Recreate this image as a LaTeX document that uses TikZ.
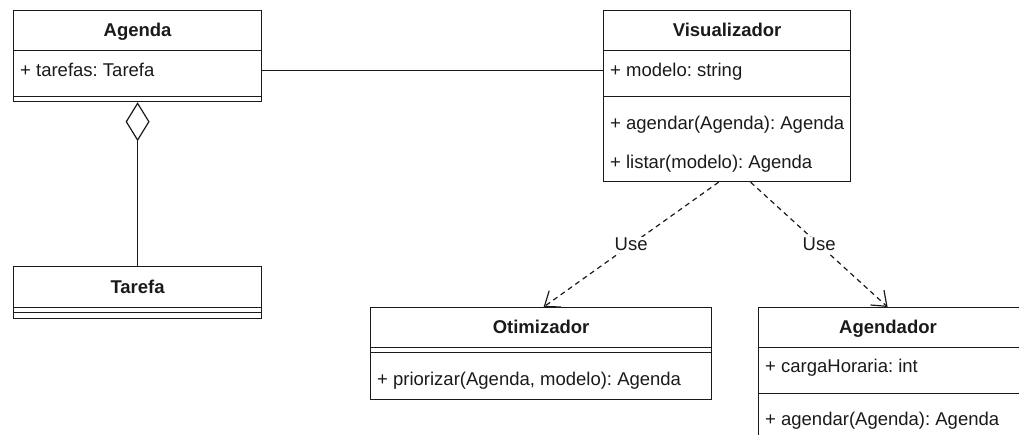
\documentclass[tikz,border=0pt]{standalone}
\usepackage{fontspec}
\setmainfont{Liberation Sans}
\usetikzlibrary{arrows.meta}
\definecolor{ink}{HTML}{1A1A1A}
\frenchspacing
\begin{document}
\begin{tikzpicture}[x=1pt,y=-1pt,
  comp/.style={draw=ink, line width=1.2pt, inner sep=0pt, anchor=north west},
  title/.style={font=\fontsize{18.5}{22}\selectfont\bfseries\frenchspacing, text=ink, inner sep=0pt, text height=13pt, text depth=4pt},
  member/.style={font=\fontsize{18.5}{22}\selectfont\frenchspacing, text=ink, inner sep=0pt, anchor=west, text height=13pt, text depth=4pt},
  assoc/.style={draw=ink, line width=1.2pt},
  aggr/.style={draw=ink, line width=1.2pt, -{Diamond[open, length=39pt, width=24pt, line width=1.2pt]}},
  uses/.style={draw=ink, line width=1.2pt, dash pattern=on 5pt off 4pt, -{Straight Barb[length=13pt, width=20pt, line width=1.2pt]}},
  lbl/.style={font=\fontsize{18.5}{22}\selectfont, text=ink, fill=white, inner sep=1.5pt}
]
\useasboundingbox (0,0) rectangle (1019,434);
\clip (0,0) rectangle (1019,434);

% Agenda
\node[comp, minimum width=248pt, minimum height=40pt] (agH) at (13,10) {};
\node[comp, minimum width=248pt, minimum height=46pt] (agA) at (13,50) {};
\node[comp, minimum width=248pt, minimum height=5pt] (agM) at (13,96) {};
\node[title] (agT) at ([yshift=-1.5pt]agH.center) {Agenda};
\node[member] (agA1) at (20,72) {+ tarefas: Tarefa};

% Tarefa
\node[comp, minimum width=248pt, minimum height=41pt] (taH) at (13,266) {};
\node[comp, minimum width=248pt, minimum height=5pt] (taA) at (13,307) {};
\node[comp, minimum width=248pt, minimum height=6pt] (taM) at (13,312) {};
\node[title] (taT) at ([yshift=-1.5pt]taH.center) {Tarefa};

% Visualizador
\node[comp, minimum width=247pt, minimum height=40pt] (viH) at (603,10) {};
\node[comp, minimum width=247pt, minimum height=46pt] (viA) at (603,50) {};
\node[comp, minimum width=247pt, minimum height=85pt] (viM) at (603,96) {};
\node[title] (viT) at ([yshift=-1.5pt]viH.center) {Visualizador};
\node[member] (viA1) at (610,72) {+ modelo: string};
\node[member] (viM1) at (610,125) {+ agendar(Agenda): Agenda};
\node[member] (viM2) at (610,164) {+ listar(modelo): Agenda};

% Otimizador
\node[comp, minimum width=341pt, minimum height=40pt] (otH) at (370,307) {};
\node[comp, minimum width=341pt, minimum height=5pt] (otA) at (370,347) {};
\node[comp, minimum width=341pt, minimum height=47pt] (otM) at (370,352) {};
\node[title] (otT) at ([yshift=-1.5pt]otH.center) {Otimizador};
\node[member] (otM1) at (377,381) {+ priorizar(Agenda, modelo): Agenda};

% Agendador
\node[comp, minimum width=272pt, minimum height=40pt] (adH) at (758,307) {};
\node[comp, minimum width=272pt, minimum height=46pt] (adA) at (758,347) {};
\node[comp, minimum width=272pt, minimum height=60pt] (adM) at (758,393) {};
\node[title] (adT) at (888,328.5) {Agendador};
\node[member] (adA1) at (765,368) {+ cargaHoraria: int};
\node[member] (adM1) at (765,421) {+ agendar(Agenda): Agenda};

% Connectors
\draw[assoc] ([yshift=3pt]agA.east) -- ([yshift=3pt]viA.west);
\draw[aggr] (taH.north) -- (agM.south);
\draw[uses] ([xshift=-8.5pt]viM.south) -- node[lbl] (u1) {Use} ([xshift=2.5pt]otH.north);
\draw[uses] ([xshift=23.5pt]viM.south) -- node[lbl] (u2) {Use} ([xshift=-7pt]adH.north);
\end{tikzpicture}
\end{document}
